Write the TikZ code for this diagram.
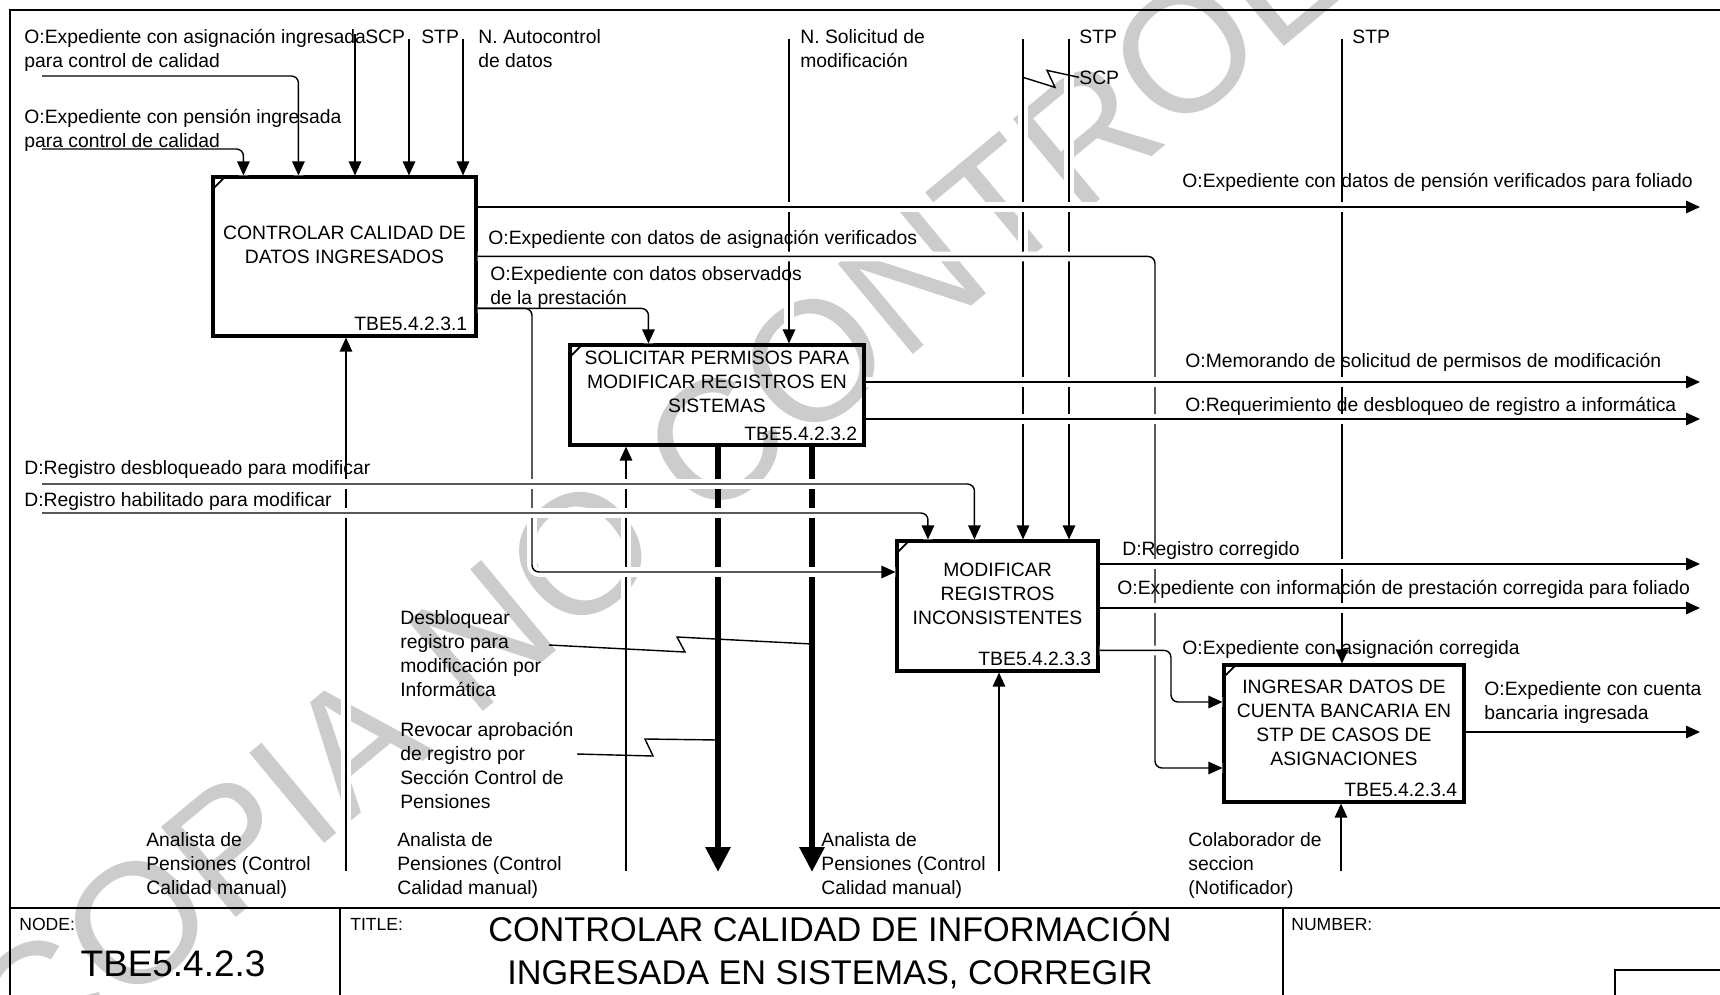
\documentclass[tikz,border=0pt]{standalone}
\usepackage{fontspec}
\setmainfont{Liberation Sans}
\newfontfamily\markfont{Liberation Sans}
\usetikzlibrary{arrows.meta, calc, positioning}

\newcommand{\lblfont}{\fontsize{11}{13.66}\selectfont}
\newcommand{\smallfont}{\fontsize{10}{12}\selectfont}
\newcommand{\bigfont}{\fontsize{19.5}{24.4}\selectfont}

\begin{document}
\begin{tikzpicture}[x=0.02cm, y=-0.02cm,
  >={Triangle[length=0.28cm, width=0.25cm]},
  halo/.style={preaction={draw=white, line width=5.5pt, -}},
  flowplain/.style={->, line width=0.8pt, rounded corners=0.14cm},
  flow/.style={flowplain, halo},
  callflow/.style={-{Triangle[length=0.5cm, width=0.48cm]}, line width=3.4pt},
  leader/.style={line width=0.8pt},
  actbox/.style={draw, line width=1.8pt, inner sep=0pt},
  boxtxt/.style={font=\lblfont, inner sep=0pt, align=center},
  boxid/.style={font=\lblfont, inner sep=0pt, anchor=base east},
  lbl/.style={font=\lblfont, inner sep=0pt, align=left, anchor=base west},
  frame/.style={line width=1pt}]
\useasboundingbox (0,0) rectangle (1720,994);

% watermark
\node[rotate=39.7, text=black!20, font=\markfont\fontsize{97}{97}\selectfont] (wm) at (785,385) {COPIA NO CONTROLADA};

% frame and title block
\draw[frame] (1740,10) -- (10,10) -- (10,1010);
\draw[frame] (10,908) -- (1740,908);
\draw[frame] (340,908) -- (340,1010) (1283,908) -- (1283,1010);
\draw[frame] (1615,1010) |- (1740,970);

% activities
\node[actbox, minimum width=5.26cm, minimum height=3.18cm] (b1) at (344.5,256.5) {};
\node[actbox, minimum width=5.88cm, minimum height=2.0cm] (b2) at (717,395) {};
\node[actbox, minimum width=4.02cm, minimum height=2.6cm] (b3) at (997.5,606) {};
\node[actbox, minimum width=4.8cm, minimum height=2.74cm] (b4) at (1344,733.5) {};
\foreach \b in {b1,b2,b3,b4}
  \draw[line width=1pt] ([yshift=-0.3cm]\b.north west) -- ([xshift=0.3cm]\b.north west);

\node[boxtxt] (b1t) at ([yshift=0.24cm]b1.center) {CONTROLAR CALIDAD DE\\DATOS INGRESADOS};
\node[boxtxt] (b2t) at ([yshift=0.26cm]b2.center) {SOLICITAR PERMISOS PARA\\MODIFICAR REGISTROS EN\\SISTEMAS};
\node[boxtxt] (b3t) at ([yshift=0.24cm]b3.center) {MODIFICAR\\REGISTROS\\INCONSISTENTES};
\node[boxtxt] (b4t) at ([yshift=0.22cm]b4.center) {INGRESAR DATOS DE\\CUENTA BANCARIA EN\\STP DE CASOS DE\\ASIGNACIONES};
\node[boxid] (b1id) at ([xshift=-0.2cm, yshift=0.14cm]b1.south east) {TBE5.4.2.3.1};
\node[boxid] (b2id) at ([xshift=-0.16cm, yshift=0.12cm]b2.south east) {TBE5.4.2.3.2};
\node[boxid] (b3id) at ([xshift=-0.16cm, yshift=0.14cm]b3.south east) {TBE5.4.2.3.3};
\node[boxid] (b4id) at ([xshift=-0.16cm, yshift=0.14cm]b4.south east) {TBE5.4.2.3.4};

% free ends
\coordinate (kSCP) at (355,34);
\coordinate (kSTP) at (409,39);
\coordinate (kAuto) at (463,39);
\coordinate (kSol) at (789,39);
\coordinate (kSCPb) at (1023,39);
\coordinate (kSTPb) at (1069,39);
\coordinate (kSTPc) at (1342,39);
\coordinate (mA) at (346,871);
\coordinate (mB) at (626,871);
\coordinate (mC) at (999,871);
\coordinate (mD) at (1341,871);
\coordinate (callA) at (718,872);
\coordinate (callB) at (812,872);
\coordinate (inA) at (42,76);
\coordinate (inB) at (42,149);
\coordinate (inC) at (42,484);
\coordinate (inD) at (42,513);
\coordinate (outA) at (1700,207);
\coordinate (outB) at (1700,382);
\coordinate (outC) at (1700,419);
\coordinate (outD) at (1700,564);
\coordinate (outE) at (1700,608);
\coordinate (outF) at (1700,732);
\coordinate (bendA) at (532,572);
\coordinate (bendB) at (1155,768);
\coordinate (bendC) at (1171,702);
\coordinate (oObs) at ([yshift=-2.66cm]b1.north east);
\coordinate (jA) at (callA |- 0,740);
\coordinate (jB) at (callB |- 0,644);

% controls and mechanisms
\foreach \k/\b in {kSCP/b1, kSTP/b1, kAuto/b1, kSol/b2, kSCPb/b3, kSTPb/b3, kSTPc/b4}
  \draw[flow] (\k) -- (\k |- \b.north);
\foreach \m/\b in {mA/b1, mB/b2, mC/b3, mD/b4}
  \draw[flow] (\m) -- (\m |- \b.south);
\foreach \c in {callA, callB}
  \draw[callflow] (\c |- b2.south) -- (\c);

% inputs
\draw[flow] (inA) -| ([xshift=1.74cm]b1.north west);
\draw[flow] (inB) -| ([xshift=0.64cm]b1.north west);
\draw[white, line width=5.5pt, rounded corners=0.14cm]
  (oObs) -| ([xshift=1.6cm]b2.north west) (oObs) -| (bendA) -- (bendA -| b3.west);
\draw[flowplain] (oObs) -| ([xshift=1.6cm]b2.north west);
\draw[flowplain] (oObs) -| (bendA) -- (bendA -| b3.west);
\draw[flow] ([yshift=-1.62cm]b1.north east) -| (bendB) -- (bendB -| b4.west);
\draw[flow] (inC) -| ([xshift=1.58cm]b3.north west);
\draw[flow] (inD) -| ([xshift=0.65cm]b3.north west);
\draw[flow] ([yshift=-2.22cm]b3.north east) -| (bendC) -- (bendC -| b4.west);

% outputs
\draw[flow] (outA -| b1.east) -- (outA);
\draw[flow] (outB -| b2.east) -- (outB);
\draw[flow] (outC -| b2.east) -- (outC);
\draw[flow] (outD -| b3.east) -- (outD);
\draw[flow] (outE -| b3.east) -- (outE);
\draw[flow] (outF -| b4.east) -- (outF);

% labels (base = last line)
\node[lbl] (lInA) at (24,67) {O:Expediente con asignación ingresada\\para control de calidad};
\node[lbl] (lInB) at (24,147) {O:Expediente con pensión ingresada\\para control de calidad};
\node[lbl] (lSCP) at (365,43) {SCP};
\node[lbl] (lSTP) at (421,43) {STP};
\node[lbl] (lAuto) at (478,67) {N. Autocontrol\\de datos};
\node[lbl] (lSol) at (800,67) {N. Solicitud de\\modificación};
\node[lbl] (lSTPb) at (1079,43) {STP};
\node[lbl] (scpB) at (1079,84) {SCP};
\node[lbl] (lSTPc) at (1352,43) {STP};
\node[lbl] (lOutA) at (1182,187) {O:Expediente con datos de pensión verificados para foliado};
\node[lbl] (lVer) at (488,244) {O:Expediente con datos de asignación verificados};
\node[lbl] (lObs) at (490,304) {O:Expediente con datos observados\\de la prestación};
\node[lbl] (lMem) at (1185,367) {O:Memorando de solicitud de permisos de modificación};
\node[lbl] (lReq) at (1185,411) {O:Requerimiento de desbloqueo de registro a informática};
\node[lbl] (lInC) at (24,474) {D:Registro desbloqueado para modificar};
\node[lbl] (lInD) at (24,506) {D:Registro habilitado para modificar};
\node[lbl] (lCor) at (1122,555) {D:Registro corregido};
\node[lbl] (lInf) at (1117,594) {O:Expediente con información de prestación corregida para foliado};
\node[lbl] (lAsg) at (1182,654) {O:Expediente con asignación corregida};
\node[lbl] (lCta) at (1484,719) {O:Expediente con cuenta\\bancaria ingresada};
\node[lbl] (desb) at (400,696) {Desbloquear\\registro para\\modificación por\\Informática};
\node[lbl] (revo) at (400,808) {Revocar aprobación\\de registro por\\Sección Control de\\Pensiones};
\node[lbl] (lMA) at (146,894) {Analista de\\Pensiones (Control\\Calidad manual)};
\node[lbl] (lMB) at (397,894) {Analista de\\Pensiones (Control\\Calidad manual)};
\node[lbl] (lMC) at (821,894) {Analista de\\Pensiones (Control\\Calidad manual)};
\node[lbl] (lMD) at (1188,894) {Colaborador de\\seccion\\(Notificador)};

% squiggles
\draw[leader] (kSCPb |- scpB.west) -- ++(32,10) -- ++(-8,-17) -- (scpB.west);
\draw[leader] (jB) -- ++(-135,-7) -- ++(8,15) -- ++(-136,-7);
\draw[leader] (jA) -- ++(-73,-1) -- ++(8,17) -- ++(-76,-2);

% title block
\node[font=\smallfont, inner sep=0pt, anchor=base west] (tNode) at (19,930) {NODE:};
\node[font=\smallfont, inner sep=0pt, anchor=base west] (tTitle) at (350,930) {TITLE:};
\node[font=\smallfont, inner sep=0pt, anchor=base west] (tNum) at (1291,930) {NUMBER:};
\node[font=\fontsize{21}{24}\selectfont, inner sep=0pt] (tNodeId) at (173,964) {TBE5.4.2.3};
\node[font=\bigfont, inner sep=0pt, align=center] (tText) at (830,950) {CONTROLAR CALIDAD DE INFORMACIÓN\\INGRESADA EN SISTEMAS, CORREGIR};
\end{tikzpicture}
\end{document}
